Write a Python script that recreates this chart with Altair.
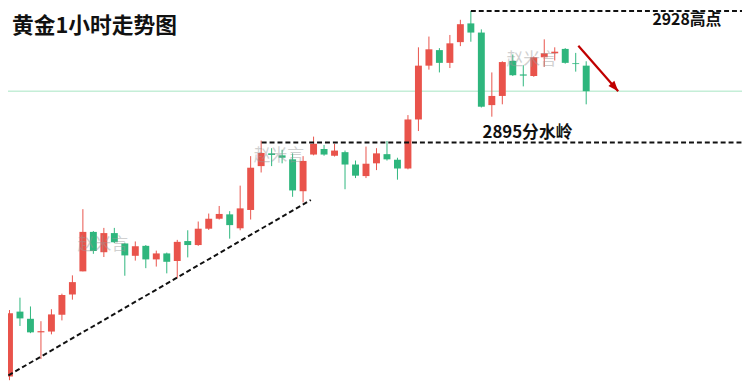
import altair as alt
import pandas as pd

# ---- candle data ----
opens = [2836.3, 2852.6, 2850.8, 2847.4, 2847.6, 2851.8, 2856.9, 2862.7, 2872.6, 2867.5,
         2872.3, 2869.7, 2866.6, 2869.1, 2865.7, 2867.2, 2865.3, 2870.3, 2869.3, 2873.4,
         2875.9, 2877.0, 2873.5, 2878.1, 2889.1, 2892.3, 2891.8, 2890.8, 2882.8, 2892.0,
         2893.4, 2891.7, 2892.6, 2889.5, 2886.6, 2889.8, 2892.1, 2890.7, 2888.5, 2900.8,
         2914.3, 2918.2, 2915.0, 2920.2, 2924.9, 2922.6, 2904.4, 2906.7, 2915.5, 2912.1,
         2911.7, 2916.4, 2917.4, 2918.5, 2914.9, 2914.3]
highs = [2853.0, 2856.1, 2853.9, 2850.2, 2853.2, 2857.1, 2861.7, 2878.3, 2872.8, 2873.6,
         2873.6, 2869.9, 2870.2, 2869.3, 2867.9, 2867.4, 2870.6, 2873.0, 2875.2, 2877.2,
         2879.1, 2877.8, 2884.2, 2891.6, 2895.5, 2893.6, 2893.2, 2892.3, 2891.6, 2896.5,
         2894.4, 2894.7, 2893.0, 2890.5, 2894.0, 2893.6, 2895.4, 2891.2, 2901.9, 2918.9,
         2921.6, 2918.7, 2922.0, 2925.8, 2928.0, 2923.4, 2912.6, 2915.4, 2917.1, 2914.4,
         2916.6, 2920.9, 2918.9, 2918.7, 2917.5, 2915.4]
lows = [2835.4, 2849.0, 2847.2, 2840.7, 2846.9, 2850.4, 2855.6, 2862.7, 2867.1, 2866.3,
        2869.8, 2861.6, 2865.4, 2863.5, 2863.9, 2862.2, 2861.0, 2866.2, 2869.1, 2873.1,
        2875.7, 2870.9, 2873.0, 2875.7, 2887.5, 2889.1, 2889.8, 2881.4, 2880.0, 2891.8,
        2891.7, 2891.5, 2883.3, 2886.1, 2886.1, 2888.1, 2890.5, 2885.7, 2888.3, 2897.9,
        2913.3, 2912.6, 2913.7, 2919.2, 2920.3, 2903.8, 2901.5, 2904.6, 2911.7, 2909.1,
        2911.5, 2914.0, 2915.6, 2914.8, 2912.8, 2904.6]
closes = [2852.2, 2850.9, 2847.4, 2847.7, 2851.9, 2856.8, 2860.0, 2872.6, 2867.8, 2872.3,
          2870.0, 2866.7, 2869.0, 2865.7, 2867.2, 2865.1, 2870.1, 2869.3, 2873.4, 2875.9,
          2877.1, 2874.3, 2878.5, 2888.7, 2892.4, 2891.9, 2891.2, 2883.0, 2890.4, 2894.7,
          2892.0, 2893.0, 2889.5, 2886.7, 2889.7, 2892.3, 2890.8, 2888.5, 2900.8, 2914.3,
          2918.4, 2915.0, 2919.9, 2924.7, 2922.6, 2904.0, 2906.7, 2915.2, 2911.9, 2911.8,
          2916.4, 2917.4, 2917.8, 2915.0, 2914.7, 2907.9]

# ---- annotation data ----
title_text = "黄金1小时走势图"
high_level, high_label = 2928.0, "2928高点"
pivot_level, pivot_label = 2895.0, "2895分水岭"
last_price = 2907.9
watermark = "赵米言"
wm_x = [8.9, 25.7, 49.8]
wm_y = [2869.4, 2891.5, 2915.8]
# dashed lines: (x, y) -> (x2, y2) in candle-index / price units
dash_x = [44.0, 24.05, -0.1]
dash_x2 = [70.0, 70.0, 28.74]
dash_y = [high_level, pivot_level, 2836.6]
dash_y2 = [high_level, pivot_level, 2880.6]
arrow_x, arrow_x2 = 54.25, 58.05
arrow_y, arrow_y2 = 2919.3, last_price

RED = "#e9534b"
GREEN = "#2eb67d"

df = pd.DataFrame({
    "i": list(range(len(opens))),
    "open": opens, "high": highs, "low": lows, "close": closes,
})
df["dir"] = ["up" if c > o else "down" for o, c in zip(opens, closes)]

xs = alt.Scale(domain=[-0.896, 69.858], nice=False, zero=False, padding=0)
ys = alt.Scale(domain=[2833.955, 2930.233], nice=False, zero=False, padding=0)
col = alt.Color("dir:N", scale=alt.Scale(domain=["up", "down"], range=[RED, GREEN]), legend=None)

X = lambda f: alt.X(f, type="quantitative", scale=xs, axis=None)
Y = lambda f: alt.Y(f, type="quantitative", scale=ys, axis=None)

base = alt.Chart(df)

price_line = alt.Chart(pd.DataFrame({"p": [last_price]})).mark_rule(
    color="#a6e5c2", strokeWidth=1).encode(y=Y("p"))

wicks = base.mark_rule(strokeWidth=1).encode(x=X("i"), y=Y("low"), y2="high", color=col)
bodies = base.mark_bar(size=7).encode(x=X("i"), y=Y("open"), y2="close", color=col)

dash_df = pd.DataFrame({"x": dash_x, "x2": dash_x2, "y": dash_y, "y2": dash_y2})
dashes = alt.Chart(dash_df).mark_rule(color="#111111", strokeWidth=2, strokeDash=[5, 3]).encode(
    x=X("x"), x2="x2", y=Y("y"), y2="y2")

arrow_df = pd.DataFrame({"x": [arrow_x], "x2": [arrow_x2], "y": [arrow_y], "y2": [arrow_y2]})
arrow_line = alt.Chart(arrow_df).mark_rule(color="#c00000", strokeWidth=2.2).encode(
    x=X("x"), x2="x2", y=Y("y"), y2="y2")
arrow_head = alt.Chart(arrow_df).mark_point(
    shape="M0,0 L0.65,1.7 L-0.65,1.7 Z", filled=True, color="#c00000", opacity=1,
    size=150, angle=138.7).encode(x=X("x2"), y=Y("y2"))

wm_df = pd.DataFrame({"x": wm_x, "y": wm_y, "t": [watermark] * 3})
wms = alt.Chart(wm_df).mark_text(font="Noto Sans CJK SC", fontSize=17, color="#999999",
                                 opacity=0.45).encode(x=X("x"), y=Y("y"), text="t")

title = alt.Chart(pd.DataFrame({"x": [0.24], "y": [2924.2], "t": [title_text]})).mark_text(
    font="Noto Sans CJK SC", fontSize=22, fontWeight="bold", align="left", baseline="middle",
    color="#111111").encode(x=X("x"), y=Y("y"), text="t")

lab_high = alt.Chart(pd.DataFrame({"x": [64.6], "y": [2925.7], "t": [high_label]})).mark_text(
    font="Noto Sans CJK SC", fontSize=16, fontWeight="bold", align="center", baseline="middle",
    color="#111111").encode(x=X("x"), y=Y("y"), text="t")

lab_pivot = alt.Chart(pd.DataFrame({"x": [49.4], "y": [2897.5], "t": [pivot_label]})).mark_text(
    font="Noto Sans CJK SC", fontSize=17, fontWeight="bold", align="center", baseline="middle",
    color="#111111").encode(x=X("x"), y=Y("y"), text="t")

chart = alt.layer(
    price_line, wicks, bodies, wms, dashes, arrow_line, arrow_head, title, lab_high, lab_pivot
).properties(
    width=750, height=388,
    padding={"left": -8, "top": -8, "right": 0, "bottom": 0},
    autosize=alt.AutoSizeParams(type="none"),
    background="white",
).configure_view(strokeWidth=0)

chart.save("out.html", embed_options={"renderer": "svg", "actions": False})
